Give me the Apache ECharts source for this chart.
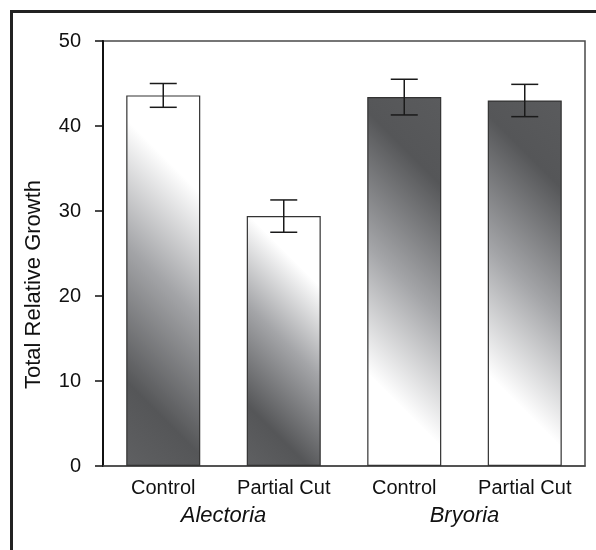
<!DOCTYPE html>
<html><head><meta charset="utf-8">
<script src="https://cdn.jsdelivr.net/npm/echarts@6/dist/echarts.min.js"></script>
<style>html,body{margin:0;padding:0;background:#fff}#c{width:596px;height:550px}</style>
</head><body><div id="c"></div>
<script>
// ---- data ----
const categories = ['Control', 'Partial Cut', 'Control', 'Partial Cut'];
const genera = ['Alectoria', 'Bryoria'];
const genusOfBar = [0, 0, 1, 1];
const growth = [43.6, 29.4, 43.4, 43.0];
const stdErr = [1.4, 1.9, 2.1, 1.9];
const yTicks = [0, 10, 20, 30, 40, 50];

// ---- styles ----
const FONT = '"Liberation Sans", Arial, Helvetica, sans-serif';
const BAR_W = 74;
const DARK = '#555658';
const STOPS = [
  [ {offset:0, color:'#5f6062'}, {offset:0.19, color:DARK}, {offset:0.5, color:'#a4a5a8'}, {offset:0.78, color:'#ffffff'}, {offset:1, color:'#ffffff'} ],
  [ {offset:0, color:'#ffffff'}, {offset:0.21, color:'#ffffff'}, {offset:0.5, color:'#a4a5a8'}, {offset:0.8, color:DARK}, {offset:1, color:'#5a5b5d'} ]
];

const chart = echarts.init(document.getElementById('c'), null, {renderer: 'canvas'});

function baseOption(barData) {
  return {
    animation: false,
    backgroundColor: '#ffffff',
    grid: {left: 103, right: 11, top: 41, bottom: 84, show: true, borderColor: '#4a4a4a', borderWidth: 1.5,
           backgroundColor: 'transparent', containLabel: false, outerBoundsMode: 'none'},
    graphic: [
      {type: 'line', shape: {x1: 11.5, y1: 10, x2: 11.5, y2: 550}, style: {stroke: '#222', lineWidth: 3}, silent: true},
      {type: 'line', shape: {x1: 10, y1: 11.5, x2: 596, y2: 11.5}, style: {stroke: '#222', lineWidth: 3}, silent: true}
    ],
    xAxis: [
      {type: 'category', data: categories, position: 'bottom',
       axisLine: {show: true, lineStyle: {color: '#4a4a4a', width: 1.5}},
       axisTick: {show: false}, splitLine: {show: false},
       axisLabel: {color: '#111', fontSize: 20, fontFamily: FONT, margin: 12, interval: 0}},
      {type: 'category', data: genera, position: 'bottom',
       axisLine: {show: false}, axisTick: {show: false}, splitLine: {show: false},
       axisLabel: {color: '#111', fontSize: 22, fontStyle: 'italic', fontFamily: FONT, margin: 39, interval: 0}}
    ],
    yAxis: {
      type: 'value', min: yTicks[0], max: yTicks[yTicks.length - 1], interval: yTicks[1] - yTicks[0],
      splitLine: {show: false},
      axisLine: {show: true, lineStyle: {color: '#111', width: 2}},
      axisTick: {show: true, inside: false, length: 8, lineStyle: {color: '#111', width: 1.5}},
      axisLabel: {color: '#111', fontSize: 20, fontFamily: FONT, margin: 22},
      name: 'Total Relative Growth', nameLocation: 'middle', nameRotate: 90, nameGap: 58,
      nameTextStyle: {color: '#111', fontSize: 22, fontFamily: FONT, padding: [0, 62, 0, 0]}
    },
    series: [
      {type: 'bar', xAxisIndex: 0, yAxisIndex: 0, barWidth: BAR_W, data: barData,
       itemStyle: {borderColor: '#333', borderWidth: 1.2}, z: 2},
      {type: 'custom', xAxisIndex: 0, yAxisIndex: 0, z: 10,
       data: growth.map((v, i) => [i, v - stdErr[i], v + stdErr[i]]),
       renderItem: function (params, api) {
         const x = api.value(0);
         const lo = api.coord([x, api.value(1)]);
         const hi = api.coord([x, api.value(2)]);
         const hw = 13.5;
         const st = {stroke: '#1a1a1a', lineWidth: 1.5};
         return {type: 'group', children: [
           {type: 'line', shape: {x1: lo[0], y1: lo[1], x2: hi[0], y2: hi[1]}, style: st},
           {type: 'line', shape: {x1: lo[0] - hw, y1: lo[1], x2: lo[0] + hw, y2: lo[1]}, style: st},
           {type: 'line', shape: {x1: hi[0] - hw, y1: hi[1], x2: hi[0] + hw, y2: hi[1]}, style: st}
         ]};
       }}
    ]
  };
}

chart.setOption(baseOption(growth.slice()));

// Build diagonal gradients (bottom-left -> top-right at 45 degrees) from the laid-out bars
const barData = growth.map((v, i) => {
  const top = chart.convertToPixel({seriesIndex: 0}, [i, v]);
  const base = chart.convertToPixel({seriesIndex: 0}, [i, 0]);
  const L = top[0] - BAR_W / 2, B = base[1];
  const h = base[1] - top[1];
  const t = (BAR_W + h) / 2;
  return {
    value: v,
    itemStyle: {color: new echarts.graphic.LinearGradient(L, B, L + t, B - t, STOPS[genusOfBar[i]], true)}
  };
});
chart.setOption(baseOption(barData), true);
</script>
</body></html>
